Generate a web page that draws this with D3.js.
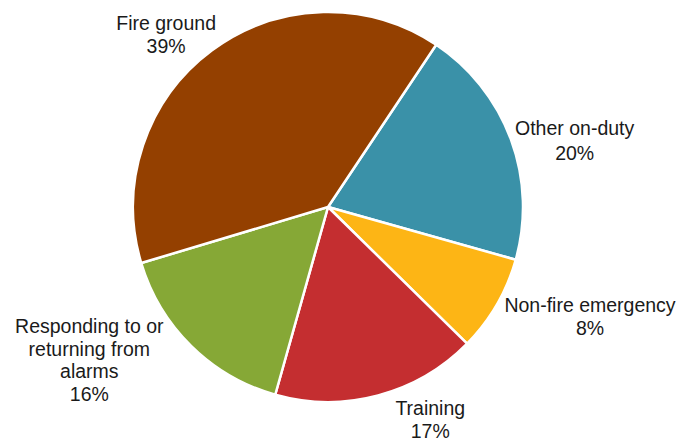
<!DOCTYPE html>
<html>
<head>
<meta charset="utf-8">
<script src="https://cdn.jsdelivr.net/npm/d3@7"></script>
<style>
  body { margin: 0; background: #fff; }
  svg text { font-family: "Liberation Sans", Arial, sans-serif; font-size: 19.5px; fill: #1a1a1a; }
</style>
</head>
<body>
<svg id="pie" width="681" height="443"></svg>
<script>
// data
var categories = ["Other on-duty", "Non-fire emergency", "Training", "Responding to or returning from alarms", "Fire ground"];
var labelLines = [["Other on-duty"], ["Non-fire emergency"], ["Training"], ["Responding to or", "returning from", "alarms"], ["Fire ground"]];
var values = [20, 8, 17, 16, 39];
var colors = ["#3A91A8", "#FDB515", "#C42E30", "#86A836", "#944000"];

var svg = d3.select("#pie"),
    cx = 328, cy = 207,
    radius = 195,
    g = svg.append("g").attr("transform", "translate(" + cx + "," + cy + ")");

// first slice starts a bit past 12 o'clock, like the original
var startAngle = 33.7 * Math.PI / 180;

var pie = d3.pie()
    .sort(null)
    .startAngle(startAngle)
    .endAngle(startAngle + 2 * Math.PI)
    .value(function(d) { return d; });

var arc = d3.arc().innerRadius(0).outerRadius(radius);
var labelArc = d3.arc().innerRadius(radius + 20).outerRadius(radius + 20);

var arcs = pie(values);

g.selectAll("path")
    .data(arcs)
    .enter().append("path")
      .attr("d", arc)
      .attr("fill", function(d, i) { return colors[i]; })
      .attr("stroke", "#fff")
      .attr("stroke-width", 2.5)
      .attr("stroke-linejoin", "round");

// nudges to push label blocks clear of the pie
var nudge = [[45, 7], [76, 2], [47, 5], [-88, 0], [-34, 1]];
var lineH = 22.5;

var labels = g.selectAll("text.label")
    .data(arcs)
    .enter().append("text")
      .attr("class", "label")
      .attr("text-anchor", "middle");

labels.each(function(d, i) {
  var lines = labelLines[i].concat([d3.format(".0f")(values[i]) + "%"]);
  var c = labelArc.centroid(d);
  var x = c[0] + nudge[i][0],
      yMid = c[1] + nudge[i][1];
  var y0 = yMid - (lines.length - 1) * lineH / 2 + 6.5;
  d3.select(this).selectAll("tspan")
    .data(lines)
    .enter().append("tspan")
      .attr("x", x)
      .attr("y", function(t, j) { return y0 + j * lineH + (i === 0 && j > 0 ? 3 : 0); })
      .text(function(t) { return t; });
});
</script>
</body>
</html>
